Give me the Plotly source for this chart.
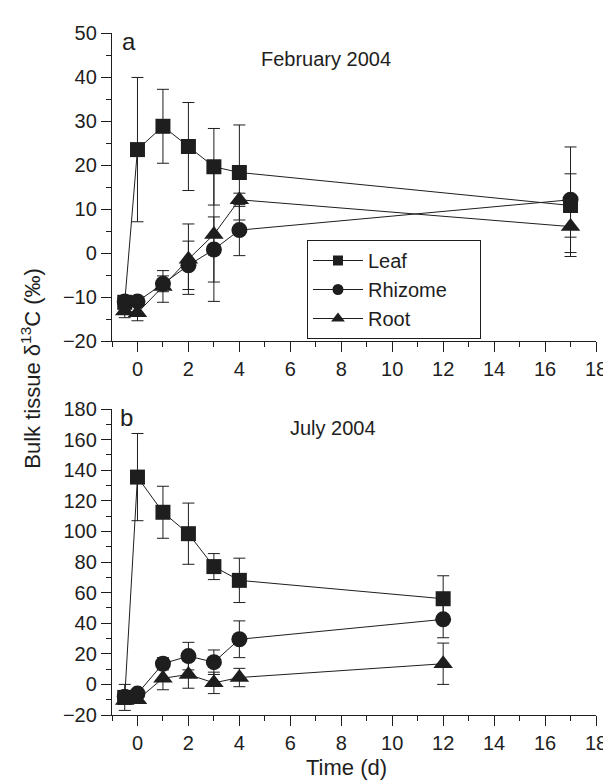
import plotly.graph_objects as go

# ---------------- data ----------------
time_feb = [-0.5, 0, 1, 2, 3, 4, 17]
leaf_feb = [-11.2, 23.5, 28.8, 24.2, 19.6, 18.3, 10.8]
leaf_feb_err = [1.5, 16.4, 8.4, 10.0, 8.7, 10.8, 7.2]
rhizome_feb = [-11.0, -11.0, -7.0, -2.8, 0.8, 5.2, 12.1]
rhizome_feb_err = [1.0, 1.0, 1.8, 5.5, 7.4, 5.8, 12.0]
root_feb = [-13.2, -13.6, -7.6, -1.4, 4.2, 12.1, 6.0]
root_feb_err = [1.5, 1.8, 3.6, 8.0, 15.2, 1.5, 6.8]

time_jul = [-0.5, 0, 1, 2, 3, 4, 12]
leaf_jul = [-8.5, 135.5, 112.5, 98.5, 77.0, 68.0, 56.0]
leaf_jul_err = [8.5, 28.5, 17.0, 20.0, 8.5, 14.5, 15.0]
rhizome_jul = [-8.0, -6.0, 13.5, 18.5, 14.5, 29.5, 42.5]
rhizome_jul_err = [2.0, 2.0, 4.0, 9.0, 8.0, 12.0, 12.0]
root_jul = [-10.5, -10.0, 4.0, 6.5, 1.0, 4.5, 13.5]
root_jul_err = [2.0, 2.0, 7.5, 9.0, 7.0, 6.0, 13.5]

series_names = ["Leaf", "Rhizome", "Root"]
x_ticks = [0, 2, 4, 6, 8, 10, 12, 14, 16, 18]

# ---------------- layout geometry ----------------
W, H = 611, 780
L, R, T, B = 104, 13, 25, 73
PW, PH = W - L - R, H - T - B


def px(xp):
    return (xp - L) / PW


def py(yp):
    return (H - B - yp) / PH


INK = "#1e1e1e"
FONT = "Liberation Sans, Arial, Helvetica, sans-serif"
symbols = {"Leaf": "square", "Rhizome": "circle", "Root": "triangle-up"}
sizes = {"Leaf": 15, "Rhizome": 16, "Root": 17}
legend_sizes = {"Leaf": 10, "Rhizome": 11, "Root": 12}

fig = go.Figure()

panels = [
    ("x", "y", time_feb, [leaf_feb, rhizome_feb, root_feb], [leaf_feb_err, rhizome_feb_err, root_feb_err]),
    ("x2", "y2", time_jul, [leaf_jul, rhizome_jul, root_jul], [leaf_jul_err, rhizome_jul_err, root_jul_err]),
]
for xa, ya, t, vals, errs in panels:
    for name, v, e in zip(series_names, vals, errs):
        fig.add_trace(go.Scatter(
            x=t, y=v, xaxis=xa, yaxis=ya, mode="lines+markers", name=name,
            showlegend=False,
            line=dict(color=INK, width=1),
            marker=dict(symbol=symbols[name], size=sizes[name], color=INK, line=dict(width=0)),
            error_y=dict(type="data", array=e, visible=True, color=INK, thickness=1, width=6),
        ))

# legend entries (no data drawn)
pad = {"Leaf": 9, "Rhizome": 5, "Root": 9}
for i, name in enumerate(series_names):
    fig.add_trace(go.Scatter(
        x=[None], y=[None], mode="lines+markers",
        name=name + "\u00a0" * pad[name], legendgroup=name, legendrank=i + 1,
        line=dict(color=INK, width=1),
        marker=dict(symbol=symbols[name], size=legend_sizes[name], color=INK),
    ))

axis_common = dict(
    showline=True, linecolor=INK, linewidth=1.3, mirror=False,
    ticks="outside", ticklen=10, tickwidth=1.3, tickcolor=INK,
    showgrid=False, zeroline=False, ticklabeloverflow="allow",
    tickfont=dict(family=FONT, size=20, color=INK),
)
minor_common = dict(ticks="outside", ticklen=5, tickwidth=1.3, tickcolor=INK, tick0=0)

fig.update_layout(
    width=W, height=H,
    margin=dict(l=L, r=R, t=T, b=B),
    plot_bgcolor="white", paper_bgcolor="white",
    font=dict(family=FONT, color=INK),
    xaxis=dict(domain=[0, 1], anchor="y", range=[-1, 18], tickvals=x_ticks,
               minor=dict(dtick=1, **minor_common), **axis_common),
    yaxis=dict(domain=[py(333), 1], anchor="x", range=[-20, 50], dtick=10, tick0=0,
               minor=dict(dtick=5, **minor_common), **axis_common),
    xaxis2=dict(domain=[0, 1], anchor="y2", range=[-1, 18], tickvals=x_ticks,
                minor=dict(dtick=1, **minor_common), **axis_common),
    yaxis2=dict(domain=[0, py(401)], anchor="x2", range=[-20, 180], dtick=20, tick0=0,
                minor=dict(dtick=10, **minor_common), **axis_common),
    legend=dict(
        x=px(303), y=py(232), xanchor="left", yanchor="top",
        bgcolor="white", bordercolor=INK, borderwidth=1,
        font=dict(family=FONT, size=20, color=INK),
        tracegroupgap=0, itemwidth=50,
    ),
    showlegend=True,
)

annotations = [
    dict(text="a", x=px(121), y=py(34), size=24),
    dict(text="b", x=px(119), y=py(410), size=24),
    dict(text="February 2004", x=px(322), y=py(51), size=20),
    dict(text="July 2004", x=px(330), y=py(420), size=20),
    dict(text="Time (d)", x=px(343), y=py(759), size=22),
    dict(text="Bulk tissue \u03b4<sup>13</sup>C (\u2030)", x=px(21), y=py(360), size=22, textangle=-90),
]
for a in annotations:
    fig.add_annotation(xref="paper", yref="paper", showarrow=False,
                       xanchor="center", yanchor="middle",
                       font=dict(family=FONT, color=INK, size=a["size"]),
                       text=a["text"], x=a["x"], y=a["y"], textangle=a.get("textangle", 0))

fig.write_html("out.html")
